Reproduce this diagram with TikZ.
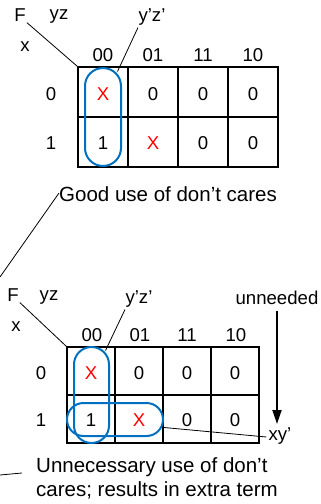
\documentclass[tikz,border=0pt]{standalone}
\usepackage{fontspec}
\setmainfont{Liberation Sans}
\usetikzlibrary{arrows.meta}
\definecolor{kblue}{RGB}{0,112,192}
\tikzset{
  lbl/.style={inner sep=0pt, font=\fontsize{18.6}{20}\selectfont},
  captxt/.style={inner sep=0pt, anchor=west, align=left, font=\fontsize{20.5}{24}\selectfont},
  dc/.style={lbl, text=red},
  kmap/.style={draw, line width=1.1pt, inner sep=0pt},
  innerline/.style={line width=2pt},
  grp/.style={draw=kblue, line width=2pt, inner sep=0pt},
  lead/.style={line width=0.8pt},
}
\begin{document}
\begin{tikzpicture}[x=1pt,y=-1pt]
\useasboundingbox (0,0) rectangle (321,504);
\clip (0,0) rectangle (321,504);
% ---------- top map ----------
\node[kmap, minimum width=200pt, minimum height=100pt] (g1) at (178,117) {};
\draw[innerline] (128,67) -- (128,167) (178,67) -- (178,167) (228,67) -- (228,167);
\draw[innerline] (78,117) -- (278,117);
\node[lbl] (F1) at (20,15) {F};
\node[lbl] (yz1) at (59,17) {yz};
\node[lbl] (x1) at (25,47) {x};
\node[lbl] (yzp1) at (152,17) {y’z’};
\node[lbl] (h100) at (103,55) {00};
\node[lbl] (h101) at (153,55) {01};
\node[lbl] (h111) at (203,55) {11};
\node[lbl] (h110) at (253,55) {10};
\node[lbl] (r10) at (51,94) {0};
\node[lbl] (r11) at (51,143) {1};
\node[dc]  (a00) at (103,94) {X};
\node[lbl] (a01) at (153,94) {0};
\node[lbl] (a11) at (203,94) {0};
\node[lbl] (a10) at (253,94) {0};
\node[lbl] (b00) at (103,143) {1};
\node[dc]  (b01) at (153,143) {X};
\node[lbl] (b11) at (203,143) {0};
\node[lbl] (b10) at (253,143) {0};
\node[grp, rounded corners=18pt, minimum width=36pt, minimum height=98pt] (e1) at (103,117) {};
\draw[lead] ([xshift=1pt,yshift=-1pt]F1.south east) -- (g1.north west);
\draw[lead] ([xshift=-14pt,yshift=-2pt]yzp1.south) -- ([xshift=-4.5pt,yshift=-4.5pt]e1.north east);
% ---------- caption 1 ----------
\node[captxt] (good) at (59,194) {Good use of don’t cares};
\coordinate (goodend) at (0,277);
\draw[lead] ([yshift=1pt]good.west) -- (goodend);
% ---------- bottom map ----------
\node[kmap, minimum width=192pt, minimum height=96pt] (g2) at (163,395) {};
\draw[innerline] (115,347) -- (115,443) (163,347) -- (163,443) (211,347) -- (211,443);
\draw[innerline] (67,395) -- (259,395);
\node[lbl] (F2) at (13,295) {F};
\node[lbl] (yz2) at (49,298) {yz};
\node[lbl] (x2) at (16,327) {x};
\node[lbl] (yzp2) at (139,299) {y’z’};
\node[lbl] (un) at (277,298) {unneeded};
\node[lbl] (h200) at (92,335) {00};
\node[lbl] (h201) at (140,335) {01};
\node[lbl] (h211) at (187,335) {11};
\node[lbl] (h210) at (236,335) {10};
\node[lbl] (r20) at (41,373) {0};
\node[lbl] (r21) at (41,420) {1};
\node[dc]  (c00) at (91,373) {X};
\node[lbl] (c01) at (139,373) {0};
\node[lbl] (c11) at (187,373) {0};
\node[lbl] (c10) at (235,373) {0};
\node[lbl] (d00) at (91,420) {1};
\node[dc]  (d01) at (139,420) {X};
\node[lbl] (d11) at (187,420) {0};
\node[lbl] (d10) at (235,420) {0};
\node[grp, rounded corners=17.5pt, minimum width=35pt, minimum height=96pt] (e2) at (91.5,395) {};
\node[grp, rounded corners=16.5pt, minimum width=96pt, minimum height=33pt] (e3) at (115,419.5) {};
\node[lbl] (xyp) at (280,436) {xy’};
\draw[lead] ([xshift=1pt,yshift=-1pt]F2.south east) -- (g2.north west);
\draw[lead] ([xshift=-14pt,yshift=-2pt]yzp2.south) -- ([xshift=-4.5pt,yshift=-4.5pt]e2.north east);
\draw[lead] ([yshift=-8pt]e3.east) -- ([xshift=-2pt,yshift=-1pt]xyp.west);
\coordinate (unend) at (277,424);
\draw[line width=1.8pt, -{Triangle[length=14pt,width=9pt]}] ([yshift=-6pt]un.south) -- (unend);
% ---------- caption 2 ----------
\node[captxt] (bad) at (36,478) {Unnecessary use of don’t\\cares; results in extra term};
\coordinate (badend) at (0,475);
\draw[lead] ([xshift=-14pt,yshift=5pt]bad.west) -- (badend);
\end{tikzpicture}
\end{document}
